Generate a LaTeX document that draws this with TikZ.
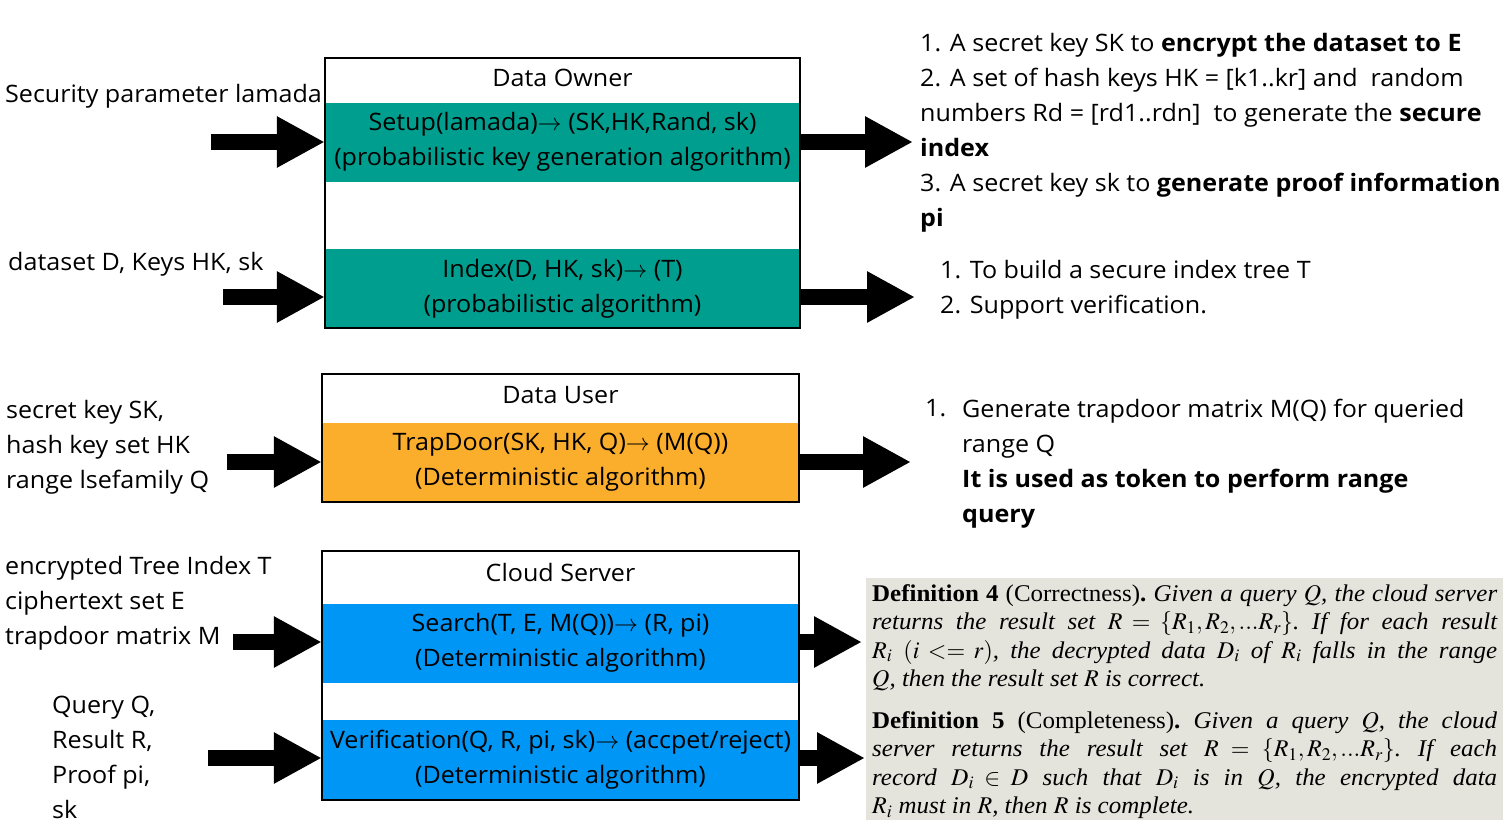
\documentclass[tikz,border=0pt]{standalone}
\usepackage{mathptmx}
\usepackage{fontspec}
\setmainfont{Open Sans}[FakeStretch=1.045]
\newfontfamily\defserif{Liberation Serif}[FakeStretch=1.04]
\usetikzlibrary{arrows.meta}

\definecolor{ownerteal}{RGB}{0,158,142}
\definecolor{userorange}{RGB}{251,173,44}
\definecolor{serverblue}{RGB}{0,150,245}
\definecolor{defgray}{RGB}{228,228,220}

\tikzset{x=1pt, y=-1pt, every node/.append style={font=\fontsize{24}{35}\selectfont},
    band/.style={minimum width=477pt, minimum height=79pt, inner sep=0pt, align=center},
    frame/.style={line width=2pt},
    bigarrow/.style={line width=16pt, -{Triangle[width=48pt,length=48pt]}},
    note/.style={align=left, inner sep=0pt, anchor=north west},
    defbox/.style={anchor=north west, text width=625pt, inner xsep=6pt, inner ysep=0pt,
        align=justify, font=\defserif\fontsize{24}{28.5}\selectfont\frenchspacing}}

\begin{document}
\begin{tikzpicture}
\useasboundingbox (0,0) rectangle (1505,833);

% data owner
\node[band, fill=ownerteal, minimum width=475pt] (setup) at (562.5,142)
    {Setup(lamada)$\rightarrow$ (SK,HK,Rand, sk)\\(probabilistic key generation algorithm)};
\node[band, fill=ownerteal, minimum width=475pt] (index) at (562.5,288.5)
    {Index(D, HK, sk)$\rightarrow$ (T)\\(probabilistic algorithm)};
\draw[frame] (325,58) rectangle (800,328);
\node (owner) at (562.5,78) {Data Owner};

% data user
\node[band, fill=userorange] (trapdoor) at (560.5,462)
    {TrapDoor(SK, HK, Q)$\rightarrow$ (M(Q))\\(Deterministic algorithm)};
\draw[frame] (322,374) rectangle (799,502);
\node (user) at (560.5,395) {Data User};

% cloud server
\node[band, fill=serverblue] (search) at (560.5,643)
    {Search(T, E, M(Q))$\rightarrow$ (R, pi)\\(Deterministic algorithm)};
\node[band, fill=serverblue] (verify) at (560.5,759.5)
    {Verification(Q, R, pi, sk)$\rightarrow$ (accpet/reject)\\(Deterministic algorithm)};
\draw[frame] (322,551) rectangle (799,800);
\node (server) at (560.5,572) {Cloud Server};

% inputs
\node[anchor=west, inner sep=0pt] (lamada) at (5,96) {Security parameter lamada};
\node[anchor=west, inner sep=0pt] (dataset) at (8,264) {dataset D, Keys HK, sk};
\node[note] (userin) at (6,400) {secret key SK,\\hash key set HK\\range lsefamily Q};
\node[note] (serverin) at (5,556) {encrypted Tree Index T\\ciphertext set E\\trapdoor matrix M};
\node[note] (verifyin) at (52,696) {Query Q,\\Result R,\\Proof pi,\\sk};

\coordinate (setupin) at (211,142);
\coordinate (indexin) at (223,297);
\coordinate (trapdoorin) at (227,462);
\coordinate (searchin) at (233,642);
\coordinate (verifyin) at (208,758);
\draw[bigarrow] (setupin) -- (setupin -| setup.west);
\draw[bigarrow] (indexin) -- (indexin -| index.west);
\draw[bigarrow] (trapdoorin) -- (trapdoorin -| trapdoor.west);
\draw[bigarrow] (searchin) -- (searchin -| search.west);
\draw[bigarrow] (verifyin) -- (verifyin -| verify.west);

% outputs
\coordinate (setupout) at (913,142);
\coordinate (indexout) at (915,297);
\coordinate (trapdoorout) at (911,462);
\coordinate (searchout) at (862,642);
\coordinate (verifyout) at (865,758);
\draw[bigarrow] (setupout -| setup.east) -- (setupout);
\draw[bigarrow] (indexout -| index.east) -- (indexout);
\draw[bigarrow] (trapdoorout -| trapdoor.east) -- (trapdoorout);
\draw[bigarrow] (searchout -| search.east) -- (searchout);
\draw[bigarrow] (verifyout -| verify.east) -- (verifyout);

\node[note] (keys) at (920,33) {1. A secret key SK to \textbf{encrypt the dataset to E}\\
    2. A set of hash keys HK = [k1..kr] and\ \ random\\
    numbers Rd = [rd1..rdn]\ \ to generate the \textbf{secure}\\
    \textbf{index}\\
    3. A secret key sk to \textbf{generate proof information}\\
    \textbf{pi}};
\node[note] (tree) at (940,260) {1. To build a secure index tree T\\2. Support verification.};
\node[note] (tokennum) at (925,399) {1.};
\node[note] (token) at (962,399) {Generate trapdoor matrix M(Q) for queried\\range Q\\
    \textbf{It is used as token to perform range}\\\textbf{query}};

% definitions
\fill[defgray] (866,578) rectangle (1503,820);
\node[defbox] (defs) at (866,584) {\noindent\textbf{Definition 4} (Correctness)\textbf{.} \textit{Given a query $Q$, the cloud server\linebreak
    returns the result set $R = \{R_1, R_2, ...R_r\}$. If for each result\linebreak
    $R_i$ $(i <= r)$, the decrypted data $D_i$ of $R_i$ falls in the range\linebreak
    $Q$, then the result set $R$ is correct.}\par\vspace{13pt}
    \noindent\textbf{Definition 5} (Completeness)\textbf{.} \textit{Given a query $Q$, the cloud\linebreak
    server returns the result set $R = \{R_1, R_2, ...R_r\}$. If each\linebreak
    record $D_i \in D$ such that $D_i$ is in $Q$, the encrypted data\linebreak
    $R_i$ must in $R$, then $R$ is complete.}};
\end{tikzpicture}
\end{document}
